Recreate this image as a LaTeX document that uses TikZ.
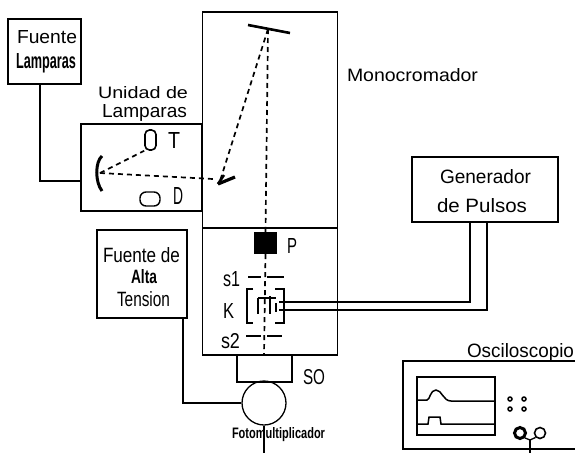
\documentclass[tikz,border=0pt]{standalone}
\usepackage{fontspec}
\usepackage{graphicx}
\setmainfont{Liberation Sans}
\usetikzlibrary{shapes.geometric,calc}
\newcommand{\fitlbl}[3]{\resizebox{#1pt}{#2pt}{#3}}
\tikzset{
  box/.style={draw,line width=1.3pt,inner sep=0pt,rectangle},
  lbl/.style={anchor=base west,inner sep=0pt,outer sep=0pt},
  wire/.style={line width=1.3pt},
  ray/.style={line width=1.7pt,dash pattern=on 5pt off 4pt},
  heavy/.style={line width=2.6pt}
}
\begin{document}
\begin{tikzpicture}[x=1pt,y=-1pt]
\clip (0,0) rectangle (575,453);
\useasboundingbox (0,0) rectangle (575,453);
\fill[white] (0,0) rectangle (575,453);
% boxes
\node[box,minimum width=73pt,minimum height=65pt] (fuente) at (44.5,51.5) {};
\node[box,minimum width=121pt,minimum height=87pt] (unidad) at (141.5,167.5) {};
\node[box,minimum width=135pt,minimum height=216pt] (mono) at (270,120) {};
\node[box,minimum width=135pt,minimum height=127pt] (lower) at (270,291.5) {};
\node[box,minimum width=146pt,minimum height=65pt] (gen) at (485,189.5) {};
\node[box,minimum width=90pt,minimum height=88pt] (alta) at (142,274) {};
\node[box,minimum width=55pt,minimum height=27pt] (so) at (264.5,368.5) {};
\node[draw,circle,line width=1.3pt,minimum size=44pt,inner sep=0pt] (pm) at (264,403) {};
\node[rectangle,fill=black,minimum width=23pt,minimum height=22pt,inner sep=0pt] (pol) at (265.5,243) {};
\node[box,minimum width=180pt,minimum height=88pt] (osc) at (493,405) {};
\node[box,line width=1.5pt,minimum width=78pt,minimum height=58pt] (screen) at (456,406) {};
\node[draw,rectangle,rounded corners=4.5pt,line width=1.6pt,minimum width=11pt,minimum height=20pt,inner sep=0pt] (lampT) at (150.5,140) {};
\node[draw,rectangle,rounded corners=6pt,line width=1.4pt,minimum width=20pt,minimum height=14pt,inner sep=0pt] (lampD) at (150,199) {};
% labels
\node[lbl] (t1) at (17,43) {\fitlbl{60}{13}{Fuente}};
\node[lbl] (t2) at (16,68) {\fitlbl{60}{15}{\bfseries Lamparas}};
\node[lbl] (t3) at (98,98) {\fitlbl{90}{12}{Unidad de}};
\node[lbl] (t4) at (102,117) {\fitlbl{85}{13}{Lamparas}};
\node[lbl] (t5) at (168,148) {\fitlbl{12}{16}{T}};
\node[lbl] (t6) at (173,204) {\fitlbl{10}{17}{D}};
\node[lbl] (t7) at (347,81) {\fitlbl{131}{13}{Monocromador}};
\node[lbl] (t8) at (440,183) {\fitlbl{91}{14}{Generador}};
\node[lbl] (t9) at (437,212) {\fitlbl{90}{14}{de Pulsos}};
\node[lbl] (t10) at (103,262) {\fitlbl{77}{15}{Fuente de}};
\node[lbl] (t11) at (131,283) {\fitlbl{26}{14}{\bfseries Alta}};
\node[lbl] (t12) at (117,306) {\fitlbl{53}{15}{Tension}};
\node[lbl] (t13) at (287,253) {\fitlbl{10}{15}{P}};
\node[lbl] (t14) at (223,286) {\fitlbl{17}{15}{s1}};
\node[lbl] (t15) at (223,318) {\fitlbl{11}{15}{K}};
\node[lbl] (t16) at (221,348) {\fitlbl{19}{15}{s2}};
\node[lbl] (t17) at (303,384) {\fitlbl{22}{15}{SO}};
\node[lbl] (t18) at (232,438) {\fitlbl{93}{11}{\bfseries Fotomultiplicador}};
\node[lbl] (t19) at (467,357) {\fitlbl{107}{14}{Osciloscopio}};
% free ends
\coordinate (grating) at (268,29);
\coordinate (foldmirror) at (220,181);
\coordinate (concave) at (100,173);
\coordinate (sAa) at (248,277); \coordinate (sAb) at (284,277);
\coordinate (sBa) at (246,336); \coordinate (sBb) at (282,336);
\coordinate (kcell) at (279,306);
\coordinate (out) at (264,453);
\coordinate (oscout) at (530,453);
% mirrors
\draw[heavy] (248,25) -- (290,33);
\draw[line width=3.2pt] (218,184) -- (235,177);
\draw[line width=2.6pt] (218,184) -- (224,175);
\draw[line width=3pt] (102,156) .. controls (95,162) and (95,182) .. (102,191);
% rays
\draw[ray] (grating) -- (foldmirror);
\draw[ray] (concave) -- (213,179);
\draw[ray] (concave) -- (lampT.south west);
\draw[ray] (grating) -- (pol.north);
\draw[ray] (pol.south) -- (264,355);
% slits
\draw[line width=1.5pt] (sAa) -- (261,277) (267,277) -- (sAb);
\draw[line width=1.5pt] (sBa) -- (261,336) (267,336) -- (sBb);
% cuvette
\draw[line width=1.8pt] (253,289) -- (247,289) -- (247,323) -- (253,323);
\draw[line width=1.8pt] (275,289) -- (284,289) -- (284,323) -- (275,323);
\draw[line width=1.1pt] (258,298) -- (276,298) (258,298) -- (258,314) (270,296) -- (270,314) (276,303) -- (276,312);
% connectors
\draw[wire] ($(fuente.south)+(-4.5,0)$) |- (unidad.west |- 0,181);
\draw[wire] ($(gen.south)+(-15,0)$) |- (kcell |- 0,302);
\draw[wire] ($(gen.south)+(2,0)$) |- (kcell |- 0,310);
\draw[wire] (183,318) |- (pm.west);
\draw[wire] (pm.south) -- (out);
% oscilloscope
\draw[line width=1.5pt] (417,400) -- (427,400) .. controls (430,400) and (430,390) .. (436,390) .. controls (442,390) and (443,401) .. (451,401) -- (495,401);
\draw[line width=1.5pt] (417,424) -- (428,424) -- (429,417) -- (440,417) -- (441,424) -- (495,424);
\foreach \p/\q in {510/399,524/399,510/409,524/409}{\draw[line width=1.5pt] (\p,\q) circle (2);}
\node[draw,circle,line width=3pt,minimum size=11pt,inner sep=0pt] (knobA) at (520,433) {};
\node[draw,circle,line width=1.6pt,minimum size=11pt,inner sep=0pt] (knobB) at (540,433) {};
\draw[wire] (knobA.south east) -- (530,440) -- (knobB.south west);
\draw[wire] (530,440) -- (oscout);
\end{tikzpicture}
\end{document}
